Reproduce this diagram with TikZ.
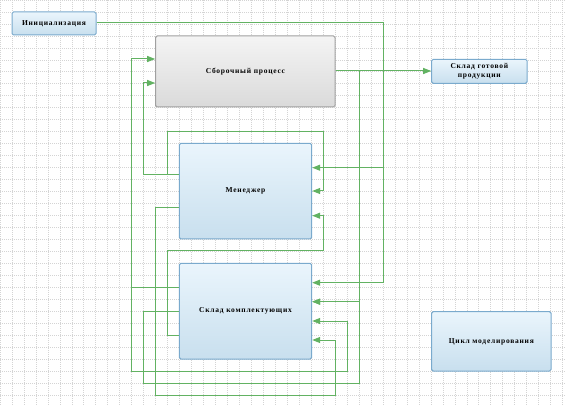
\documentclass[tikz,border=0pt]{standalone}
\usepackage{fontspec}
\usetikzlibrary{arrows.meta}
\newfontfamily\lblfont[LetterSpace=10]{Liberation Serif}
\definecolor{conncol}{RGB}{98,178,98}
\definecolor{bluebord}{RGB}{122,170,205}
\definecolor{bluetop}{RGB}{234,245,252}
\definecolor{bluebot}{RGB}{200,223,238}
\definecolor{graybord}{RGB}{160,160,160}
\definecolor{graytop}{RGB}{244,244,244}
\definecolor{graybot}{RGB}{218,218,218}
\definecolor{gridcol}{RGB}{212,212,212}
\tikzset{
  lbl/.style={font=\lblfont\bfseries\fontsize{7.5}{9}\selectfont},
  bluebox/.style={draw=bluebord, line width=1pt, rounded corners=1.5pt, top color=bluetop, bottom color=bluebot, inner sep=0pt, align=center, lbl},
  graybox/.style={draw=graybord, line width=1pt, rounded corners=1.5pt, top color=graytop, bottom color=graybot, inner sep=0pt, align=center, lbl},
  conn/.style={draw=conncol, line width=1pt, -{Triangle[length=8pt,width=6pt]}, color=conncol},
  gridline/.style={draw=gridcol, line width=0.7pt, dash pattern=on 1pt off 1pt}
}
\begin{document}
\begin{tikzpicture}[x=1pt,y=-1pt]
\useasboundingbox (0,0) rectangle (565,406);
\fill[white] (0,0) rectangle (565,406);
% grid
\foreach \k in {0,...,47} {
  \pgfmathsetmacro{\gx}{0.03+11.97*\k}
  \draw[gridline] (\gx,0) -- (\gx,406);
}
\foreach \k in {0,...,34} {
  \pgfmathsetmacro{\gy}{0.03+11.97*\k}
  \draw[gridline] (0,\gy) -- (565,\gy);
}
% nodes
\node[bluebox, minimum width=84pt, minimum height=23pt] (init) at (54,23.5) {Инициализация};
\node[graybox, minimum width=179.3pt, minimum height=71pt] (asm) at (245.35,71.5) {Сборочный процесс};
\node[bluebox, minimum width=95.3pt, minimum height=24pt] (store) at (479.35,71.3) {Склад готовой\\продукции};
\node[bluebox, minimum width=132.4pt, minimum height=95.7pt] (mgr) at (245.5,191.15) {Менеджер};
\node[bluebox, minimum width=132.4pt, minimum height=95.7pt] (comp) at (245.5,311.15) {Склад комплектующих};
\node[bluebox, minimum width=119.3pt, minimum height=59.3pt] (cycle) at (491.35,341.35) {Цикл моделирования};
% connectors
\draw[conn] (init.east |- 0,23) -| (383.3,167.7) -- (mgr.east |- 0,167.7);
\draw[conn] (init.east |- 0,23) -| (383.3,282.7) -- (comp.east |- 0,282.7);
\draw[conn] (asm.east |- 0,71) -- (store.west |- 0,71);
\draw[conn] (asm.east |- 0,71) -| (359.3,301.7) -- (comp.east |- 0,301.7);
\draw[conn] (comp.west |- 0,311.7) -| (143.3,383.3) -| (359.3,301.7) -- (comp.east |- 0,301.7);
\draw[conn] (mgr.west |- 0,175) -| (143.3,83) -- (asm.west |- 0,83);
\draw[conn] (mgr.west |- 0,175) -| (167.7,131.7) -| (323.3,191) -- (mgr.east |- 0,191);
\draw[conn] (comp.west |- 0,335) -| (167.7,251) -| (323.3,215.7) -- (mgr.east |- 0,215.7);
\draw[conn] (mgr.west |- 0,207.3) -| (155.7,395) -| (335,340) -- (comp.east |- 0,340);
\draw[conn] (comp.west |- 0,287.3) -| (131.7,59) -- (asm.west |- 0,59);
\draw[conn] (comp.west |- 0,287.3) -| (131.7,371) -| (347.3,321) -- (comp.east |- 0,321);
\end{tikzpicture}
\end{document}
